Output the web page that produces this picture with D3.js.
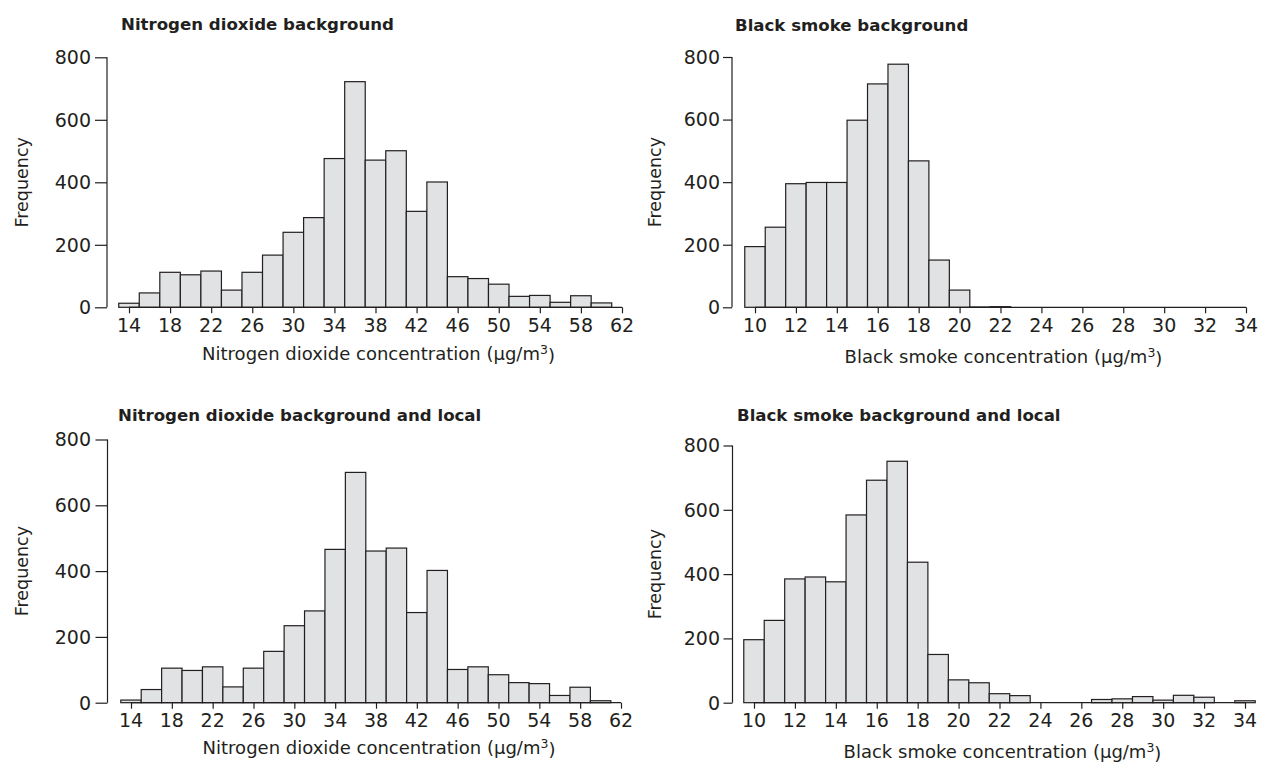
<!DOCTYPE html>
<html>
<head>
<meta charset="utf-8">
<script src="https://cdn.jsdelivr.net/npm/d3@7"></script>
<style>
  body { margin: 0; background: #fff; }
  text { font-family: "DejaVu Sans", sans-serif; fill: #231f20; }
</style>
</head>
<body>
<div id="chart"></div>
<script>
// bin centres
const no2Bins = [14, 16, 18, 20, 22, 24, 26, 28, 30, 32, 34, 36, 38, 40, 42, 44, 46, 48, 50, 52, 54, 56, 58, 60];
const bsBins = [10, 11, 12, 13, 14, 15, 16, 17, 18, 19, 20, 21, 22, 23, 24, 25, 26, 27, 28, 29, 30, 31, 32, 33, 34];

// frequencies
const no2Background = [13, 46, 112, 104, 116, 55, 112, 167, 240, 287, 476, 722, 471, 501, 307, 401, 98, 92, 74, 35, 38, 16, 37, 14];
const bsBackground = [194, 256, 395, 399, 399, 598, 714, 777, 468, 151, 55, 1, 2];
const no2Local = [8, 40, 105, 98, 109, 48, 105, 156, 234, 279, 466, 700, 461, 470, 274, 402, 101, 109, 85, 61, 58, 22, 47, 6];
const bsLocal = [196, 256, 385, 391, 376, 584, 692, 751, 437, 150, 71, 62, 28, 22, 0, 0, 0, 10, 12, 19, 8, 23, 17, 0, 6];

const no2Ticks = d3.range(14, 63, 4);
const bsTicks = d3.range(10, 35, 2);
const freqTicks = [0, 200, 400, 600, 800];

const titles = ["Nitrogen dioxide background", "Black smoke background",
                "Nitrogen dioxide background and local", "Black smoke background and local"];
const xLabels = ["Nitrogen dioxide concentration", "Black smoke concentration"];

const width = 1261, height = 763;

const svg = d3.select("#chart").append("svg")
    .attr("width", width)
    .attr("height", height);

// layout of the four panels
const panels = [
  {title: titles[0], bins: no2Bins, values: no2Background, binW: 2, ticks: no2Ticks, xlab: xLabels[0],
   x0: 129, x1: 622, yTop: 57.3, yBot: 307.3, axisX: 107, tickLen: 12, labX: 91,
   titleX: 121, titleY: 29.5, tickLabY: 332, xlabY: 360, ylabX: 28},
  {title: titles[1], bins: bsBins, values: bsBackground, binW: 1, ticks: bsTicks, xlab: xLabels[1],
   x0: 755, x1: 1246, yTop: 57, yBot: 307.3, axisX: 732, tickLen: 9, labX: 720,
   titleX: 735, titleY: 30.5, tickLabY: 332, xlabY: 363, ylabX: 661},
  {title: titles[2], bins: no2Bins, values: no2Local, binW: 2, ticks: no2Ticks, xlab: xLabels[0],
   x0: 131, x1: 621, yTop: 439.5, yBot: 702.7, axisX: 107.5, tickLen: 12, labX: 91,
   titleX: 118, titleY: 420.5, tickLabY: 727, xlabY: 754, ylabX: 28},
  {title: titles[3], bins: bsBins, values: bsLocal, binW: 1, ticks: bsTicks, xlab: xLabels[1],
   x0: 754, x1: 1245, yTop: 445.5, yBot: 702.7, axisX: 732.5, tickLen: 9, labX: 720,
   titleX: 737, titleY: 421, tickLabY: 727, xlabY: 758, ylabX: 661}
];

panels.forEach(p => {
  const t0 = p.ticks[0], t1 = p.ticks[p.ticks.length - 1];
  const x = d3.scaleLinear().domain([t0, t1]).range([p.x0, p.x1]);
  const y = d3.scaleLinear().domain([0, 800]).range([p.yBot, p.yTop]);
  const g = svg.append("g");

  // bars
  g.append("g").selectAll("rect")
      .data(p.values.map((v, i) => ({c: p.bins[i], v: v})))
      .enter().append("rect")
      .attr("x", d => x(d.c - p.binW / 2))
      .attr("width", d => x(d.c + p.binW / 2) - x(d.c - p.binW / 2))
      .attr("y", d => y(d.v))
      .attr("height", d => y(0) - y(d.v))
      .attr("fill", "#e1e2e4")
      .attr("stroke", "#231f20")
      .attr("stroke-width", 1.2);

  // x axis
  const xa = g.append("g").attr("transform", `translate(0,${p.yBot})`)
      .call(d3.axisBottom(x).tickValues(p.ticks).tickSize(6).tickFormat(""));
  xa.select(".domain").attr("stroke", "#231f20").attr("stroke-width", 1.2)
      .attr("d", `M${p.x0},0H${p.x1}`);
  xa.selectAll(".tick line").attr("stroke", "#231f20").attr("stroke-width", 1.2);

  g.append("g").selectAll("text")
      .data(p.ticks)
      .enter().append("text")
      .attr("x", d => x(d))
      .attr("y", p.tickLabY)
      .attr("text-anchor", "middle")
      .style("font-size", "19px")
      .text(d => d);

  // y axis
  const ya = g.append("g").attr("transform", `translate(${p.axisX},0)`)
      .call(d3.axisLeft(y).tickValues(freqTicks).tickSize(p.tickLen).tickFormat(""));
  ya.select(".domain").attr("stroke", "#231f20").attr("stroke-width", 1.2)
      .attr("d", `M0,${p.yTop}V${p.yBot}`);
  ya.selectAll(".tick line").attr("stroke", "#231f20").attr("stroke-width", 1.2);

  g.append("g").selectAll("text")
      .data(freqTicks)
      .enter().append("text")
      .attr("x", p.labX)
      .attr("y", d => y(d))
      .attr("dy", "0.36em")
      .attr("text-anchor", "end")
      .style("font-size", "19px")
      .text(d => d);

  // labels
  g.append("text")
      .attr("x", p.titleX)
      .attr("y", p.titleY)
      .style("font-size", "16.6px")
      .style("font-weight", "bold")
      .text(p.title);

  const xl = g.append("text")
      .attr("x", (p.x0 + p.x1) / 2 + 3)
      .attr("y", p.xlabY)
      .attr("text-anchor", "middle")
      .style("font-size", "18px");
  xl.append("tspan").text(p.xlab + " (\u03bcg/m");
  xl.append("tspan").attr("dy", "-0.45em").style("font-size", "12.5px").text("3");
  xl.append("tspan").attr("dy", "0.45em").text(")");

  g.append("text")
      .attr("transform", `translate(${p.ylabX},${(p.yTop + p.yBot) / 2}) rotate(-90)`)
      .attr("text-anchor", "middle")
      .style("font-size", "17.5px")
      .text("Frequency");
});
</script>
</body>
</html>
